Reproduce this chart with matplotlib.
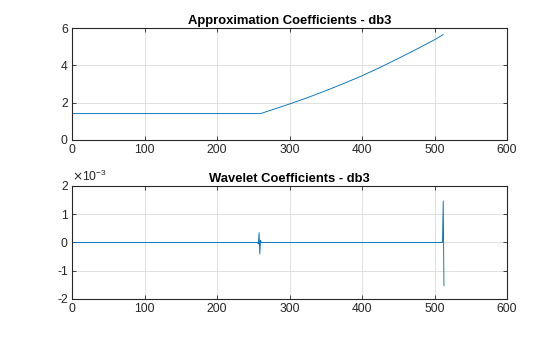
import matplotlib
matplotlib.use("Agg")
import matplotlib.pyplot as plt
from matplotlib.ticker import FuncFormatter

# approximation coefficients
approx_x = [0, 260, 280, 300, 325, 350, 375, 400, 425, 450, 475, 500, 512]
approx_y = [1.414, 1.414, 1.67, 1.93, 2.27, 2.64, 3.03, 3.44, 3.89, 4.37, 4.86, 5.37, 5.65]

# wavelet (detail) coefficients
detail_x = [0, 256, 257, 258, 259, 260, 261, 511, 512, 513]
detail_y = [0, 0, -0.05e-3, 0.35e-3, -0.41e-3, 0.08e-3, 0, 0, 1.47e-3, -1.53e-3]

LINE = "#0072BD"
AX = "#262626"

plt.rcParams["font.family"] = ["Liberation Sans", "DejaVu Sans"]
plt.rcParams["axes.unicode_minus"] = False
plt.rcParams["font.size"] = 8.7

fig = plt.figure(figsize=(5.6, 3.37), dpi=100)
fig.patch.set_facecolor("white")

ax1 = fig.add_axes([0.1286, 0.5846, 0.7768, 0.3323])
ax2 = fig.add_axes([0.1286, 0.1128, 0.7768, 0.3353])

ax1.plot(approx_x, approx_y, color=LINE, lw=0.65)
ax1.set_xlim(0, 600)
ax1.set_ylim(0, 6)
ax1.set_yticks([0, 2, 4, 6])
ax1.set_title("Approximation Coefficients - db3", fontsize=9.4, fontweight="bold", pad=3)

ax2.plot(detail_x, detail_y, color=LINE, lw=0.65)
ax2.set_xlim(0, 600)
ax2.set_ylim(-2e-3, 2e-3)
ax2.set_yticks([-2e-3, -1e-3, 0, 1e-3, 2e-3])
ax2.yaxis.set_major_formatter(FuncFormatter(lambda v, p: f"{v * 1e3:g}"))
ax2.text(0.0, 1.015, r"$\times$10$^{\mathregular{-3}}$", transform=ax2.transAxes,
         fontsize=8.7, color=AX, ha="left", va="bottom")
ax2.set_title("Wavelet Coefficients - db3", fontsize=9.4, fontweight="bold", pad=3)

for ax in (ax1, ax2):
    ax.set_xticks(range(0, 601, 100))
    ax.grid(True, color="#dcdcdc", lw=0.6)
    ax.set_axisbelow(True)
    ax.tick_params(direction="in", length=3, width=0.6, colors=AX,
                   top=True, right=True, labelsize=8.7, pad=3)
    for s in ax.spines.values():
        s.set_color(AX)
        s.set_linewidth(0.8)

fig.savefig("out.png", dpi=100)
